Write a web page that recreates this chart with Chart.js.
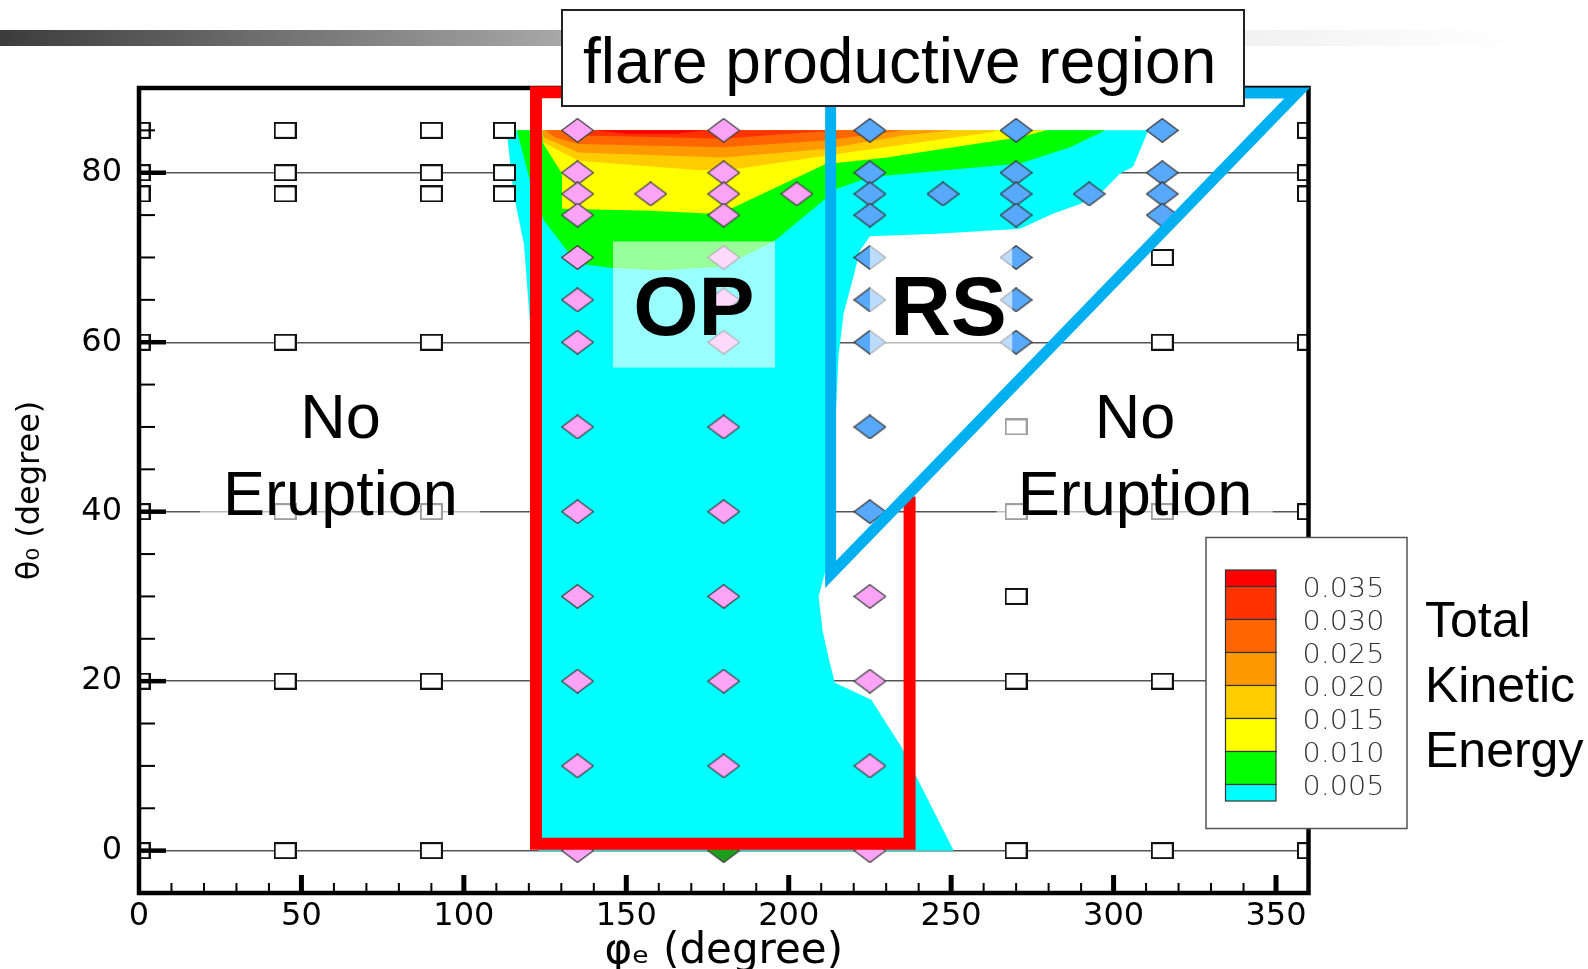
<!DOCTYPE html>
<html>
<head>
<meta charset="utf-8">
<title>Flare productive region</title>
<script src="https://cdn.jsdelivr.net/npm/chart.js@4.4.1/dist/chart.umd.min.js"></script>
<style>
  html, body { margin: 0; padding: 0; background: #fff; }
  #plot { display: block; }
</style>
</head>
<body>
<canvas id="plot" width="1588" height="969"></canvas>
<script>
// ------------------------------------------------------------------
// Axes
// ------------------------------------------------------------------
const xTicks = [0, 50, 100, 150, 200, 250, 300, 350];
const yTicks = [0, 20, 40, 60, 80];
const xMinorStep = 10;
const yMinorStep = 5;

// ------------------------------------------------------------------
// Simulation runs  [phi_e, theta_0]
// ------------------------------------------------------------------
const noEruptionRuns = [
    [0, 85], [0, 80], [0, 77.5], [0, 60], [0, 40], [0, 20], [0, 0],
    [45, 85], [45, 80], [45, 77.5], [45, 60], [45, 40], [45, 20], [45, 0],
    [90, 85], [90, 80], [90, 77.5], [90, 60], [90, 40], [90, 20], [90, 0],
    [112.5, 85], [112.5, 80], [112.5, 77.5],
    [270, 50], [270, 40], [270, 30], [270, 20], [270, 0],
    [315, 70], [315, 60], [315, 40], [315, 20], [315, 0],
    [360, 85], [360, 80], [360, 77.5], [360, 60], [360, 40], [360, 20], [360, 0]
];
const opRuns = [
    [135, 85], [135, 80], [135, 77.5], [135, 75], [135, 70], [135, 65], [135, 60],
    [135, 50], [135, 40], [135, 30], [135, 20], [135, 10], [135, 0],
    [157.5, 77.5],
    [180, 85], [180, 80], [180, 77.5], [180, 75], [180, 70], [180, 65], [180, 60],
    [180, 50], [180, 40], [180, 30], [180, 20], [180, 10],
    [202.5, 77.5],
    [225, 30], [225, 20], [225, 10], [225, 0]
];
const rsRuns = [
    [225, 85], [225, 80], [225, 77.5], [225, 75], [225, 70], [225, 65], [225, 60], [225, 50], [225, 40],
    [247.5, 77.5],
    [270, 85], [270, 80], [270, 77.5], [270, 75], [270, 70], [270, 65], [270, 60],
    [292.5, 77.5],
    [315, 85], [315, 80], [315, 77.5], [315, 75]
];
const greenRuns = [[180, 0]];

// ------------------------------------------------------------------
// Total kinetic energy contour bands (outline of each level, outer -> inner)
// ------------------------------------------------------------------
const keBandCyan = [
    [114, 85], [310.7, 85], [306, 80.7], [302, 79.9], [296.9, 77.9], [289.7, 76.3], [281.5, 75.2],
    [271.2, 73.4], [245.6, 72.8], [225, 72.5], [221.9, 70.8], [219.9, 67.7], [216.9, 63.4],
    [215.3, 58.3], [214.3, 50], [213.5, 40], [212, 34], [209.2, 30], [210.4, 26], [212.3, 22.7],
    [214.2, 19.8], [225.4, 17.8], [234.6, 12.3], [250.8, 0], [123, 0], [121.5, 30], [121, 50],
    [120.4, 62], [118.5, 71.6], [115.3, 77.5], [113.4, 84.2]
];
const keBandGreen = [
    [116.3, 85], [297, 85], [296.9, 84.9], [286.6, 83], [271.2, 81.1], [225.1, 79.5], [214.8, 78.1],
    [211.2, 76.9], [195.8, 72], [179.9, 68.9], [160, 68.5], [145, 68.8], [134.8, 69.3],
    [124.6, 74.4], [122.5, 76.5], [120.6, 78.7]
];
const keBandYellow = [
    [124.2, 85], [279.4, 85], [271.2, 84.2], [250.7, 83], [230.2, 81.8], [211.2, 81], [183, 75.9],
    [174.8, 75.2], [157.3, 75.5], [130.2, 75.75], [130.2, 79.9], [124.5, 83.4]
];
const keBandAmber = [
    [124.2, 85], [264, 85], [263, 84.8], [240.5, 83.6], [211.2, 82], [185, 80.5], [172.7, 80.3],
    [135.3, 81.4], [124.3, 83.6]
];
const keBandOrange = [
    [124.2, 85], [250.7, 85], [235.3, 84.4], [211.2, 82.8], [179.9, 81.8], [135.3, 82.4], [124.5, 84.2]
];
const keBandDarkOrange = [
    [125, 85], [235.3, 85], [211.2, 83.8], [179.9, 83], [135.3, 83.4], [128, 84.2]
];
const keBandRedOrange = [
    [130, 85], [215, 85], [200, 84.6], [179.9, 84], [162.5, 84.2], [135.3, 84.4]
];
const keBandRed = [
    [140, 85], [175, 85], [165, 84.6], [150, 84.6]
];

// Colour bar, top to bottom
const legendColors = ['#ff0000', '#ff3300', '#ff6600', '#ff9900', '#ffcc00', '#ffff00', '#00ff00', '#00ffff'];
const legendLevels = ['0.035', '0.030', '0.025', '0.020', '0.015', '0.010', '0.005'];

// Region outlines
const flareOutline = [[237.2, 41.8], [237.2, 0.8], [122.2, 0.8], [122.2, 89.5], [200, 89.5]];
const rsOutline = [[212.9, 89.4], [212.9, 32.6], [356.5, 89.4], [212.9, 89.4]];

// ------------------------------------------------------------------
const toXY = arr => arr.map(p => ({ x: p[0], y: p[1] }));

function markerCanvas(w, h, shape, fill, stroke, lw) {
    const cv = document.createElement('canvas');
    cv.width = w;
    cv.height = h;
    const g = cv.getContext('2d');
    g.fillStyle = fill;
    g.strokeStyle = stroke;
    g.lineWidth = lw;
    g.beginPath();
    if (shape === 'diamond') {
        g.moveTo(w / 2, lw / 2);
        g.lineTo(w - lw / 2, h / 2);
        g.lineTo(w / 2, h - lw / 2);
        g.lineTo(lw / 2, h / 2);
        g.closePath();
    } else {
        g.rect(lw / 2, lw / 2, w - lw, h - lw);
    }
    g.fill();
    g.stroke();
    return cv;
}

const squareMark = markerCanvas(23, 17, 'square', '#ffffff', '#111111', 2);
const pinkMark = markerCanvas(33, 25, 'diamond', '#fba3f7', '#444444', 1.3);
const blueMark = markerCanvas(33, 25, 'diamond', '#58a8fc', '#3a3a3a', 1.3);
const greenMark = markerCanvas(33, 25, 'diamond', '#1c9e1c', '#444444', 1.3);

function band(data, color, order) {
    return {
        label: 'band',
        data: toXY(data),
        showLine: true,
        fill: 'shape',
        backgroundColor: color,
        borderColor: color,
        borderWidth: 0,
        pointRadius: 0,
        tension: 0,
        order: order
    };
}

function runs(label, data, mark, order) {
    return {
        label: label,
        data: toXY(data),
        showLine: false,
        pointStyle: mark,
        pointRadius: 10,
        clip: 0,
        order: order
    };
}

function outline(data, color, width, order) {
    return {
        label: 'outline',
        data: toXY(data),
        showLine: true,
        fill: false,
        borderColor: color,
        borderWidth: width,
        borderJoinStyle: 'miter',
        borderCapStyle: 'butt',
        pointRadius: 0,
        tension: 0,
        clip: false,
        order: order
    };
}

// ------------------------------------------------------------------
// Decorations: header bar, overlays, frame, inner ticks, labels, colour bar
// ------------------------------------------------------------------
const decorPlugin = {
    id: 'decor',
    beforeDraw(chart) {
        const c = chart.ctx;
        c.save();
        c.fillStyle = '#ffffff';
        c.fillRect(0, 0, chart.width, chart.height);
        const g = c.createLinearGradient(0, 0, 1520, 0);
        g.addColorStop(0, '#3c3c3c');
        g.addColorStop(0.37, '#a8a8a8');
        g.addColorStop(0.8, '#f0f0f0');
        g.addColorStop(1, '#ffffff');
        c.fillStyle = g;
        c.fillRect(0, 30, 1520, 16);
        c.restore();
    },
    afterDatasetDraw(chart, args) {
        if (chart.data.datasets[args.index].label !== 'green run') return;
        const c = chart.ctx;
        const xs = chart.scales.x, ys = chart.scales.y, a = chart.chartArea;

        // translucent boxes behind the region labels
        c.save();
        c.fillStyle = 'rgba(255,255,255,0.6)';
        [[145.9, 195.8, 57, 71.9], [225, 268.8, 57, 71.9], [18.8, 105, 37.8, 55.5], [264, 349, 37.8, 55.5]]
            .forEach(b => {
                const x0 = xs.getPixelForValue(b[0]), x1 = xs.getPixelForValue(b[1]);
                const y0 = ys.getPixelForValue(b[3]), y1 = ys.getPixelForValue(b[2]);
                c.fillRect(x0, y0, x1 - x0, y1 - y0);
            });

        // inner tick marks
        c.strokeStyle = '#000';
        for (let v = xMinorStep; v < 360; v += xMinorStep) {
            const major = xTicks.includes(v);
            const px = xs.getPixelForValue(v);
            c.lineWidth = major ? 5 : 2;
            c.beginPath();
            c.moveTo(px, a.bottom);
            c.lineTo(px, a.bottom - (major ? 18 : 10));
            c.stroke();
        }
        for (let v = 0; v < 90; v += yMinorStep) {
            const major = yTicks.includes(v);
            const py = ys.getPixelForValue(v);
            c.lineWidth = major ? 4.5 : 2;
            c.beginPath();
            c.moveTo(a.left, py);
            c.lineTo(a.left + (major ? 27 : 16), py);
            c.stroke();
        }

        // frame
        c.lineWidth = 4.5;
        c.strokeRect(a.left, a.top, a.right - a.left, a.bottom - a.top);
        c.restore();
    },
    afterDraw(chart) {
        const c = chart.ctx;
        const xs = chart.scales.x, ys = chart.scales.y;
        c.save();
        c.fillStyle = '#000';
        c.textBaseline = 'alphabetic';

        // region labels
        c.textAlign = 'center';
        c.font = '63px "Liberation Sans", Arial, sans-serif';
        [62, 306.6].forEach(xv => {
            const px = xs.getPixelForValue(xv);
            c.fillText('No', px, ys.getPixelForValue(48.7));
            c.fillText('Eruption', px, ys.getPixelForValue(39.6));
        });
        c.font = 'bold 84px "Liberation Sans", Arial, sans-serif';
        c.fillText('OP', xs.getPixelForValue(170.8), ys.getPixelForValue(60.9));
        c.fillText('RS', xs.getPixelForValue(249.2), ys.getPixelForValue(60.9));

        // header box
        c.fillStyle = '#ffffff';
        c.fillRect(562, 10, 682, 96);
        c.strokeStyle = '#222';
        c.lineWidth = 2;
        c.strokeRect(562, 10, 682, 96);
        c.fillStyle = '#000';
        c.textAlign = 'left';
        c.font = '64px "Liberation Sans", Arial, sans-serif';
        c.fillText('flare productive region', 583, 83);

        // colour bar legend
        c.fillStyle = '#ffffff';
        c.fillRect(1206, 537.5, 201, 291);
        c.strokeStyle = '#555';
        c.lineWidth = 1.5;
        c.strokeRect(1206, 537.5, 201, 291);
        const barX = 1225.5, barW = 50.5, full = 33, half = 16.5;
        let y = 570;
        legendColors.forEach((col, i) => {
            const h = (i === 0 || i === legendColors.length - 1) ? half : full;
            c.fillStyle = col;
            c.fillRect(barX, y, barW, h);
            c.strokeStyle = '#333';
            c.lineWidth = 1.2;
            c.strokeRect(barX, y, barW, h);
            y += h;
        });
        c.fillStyle = '#333';
        c.textBaseline = 'middle';
        c.font = '200 26px "DejaVu Sans", sans-serif';
        legendLevels.forEach((lab, i) => {
            c.save();
            c.translate(1302.5, 570 + half + full * i + 4);
            c.scale(1.1, 1);
            c.fillText(lab, 0, 0);
            c.restore();
        });

        c.fillStyle = '#000';
        c.textBaseline = 'alphabetic';
        c.font = '50px "Liberation Sans", Arial, sans-serif';
        c.fillText('Total', 1425, 637);
        c.fillText('Kinetic', 1425, 702);
        c.fillText('Energy', 1425, 767);
        c.restore();
    }
};

const tickFont = { family: '"DejaVu Sans", sans-serif', size: 32, lineHeight: 1 };

new Chart(document.getElementById('plot'), {
    type: 'scatter',
    data: {
        datasets: [
            outline(rsOutline, '#00b0f0', 11, 1),
            outline(flareOutline, '#ff0000', 12, 2),
            runs('green run', greenRuns, greenMark, 9),
            runs('RS runs', rsRuns, blueMark, 10),
            runs('OP runs', opRuns, pinkMark, 11),
            runs('no eruption', noEruptionRuns, squareMark, 12),
            band(keBandRed, legendColors[0], 13),
            band(keBandRedOrange, legendColors[1], 14),
            band(keBandDarkOrange, legendColors[2], 15),
            band(keBandOrange, legendColors[3], 16),
            band(keBandAmber, legendColors[4], 17),
            band(keBandYellow, legendColors[5], 18),
            band(keBandGreen, legendColors[6], 19),
            band(keBandCyan, legendColors[7], 20)
        ]
    },
    options: {
        responsive: false,
        animation: false,
        events: [],
        layout: { padding: { top: 88, right: 279.5, bottom: 0, left: 0 } },
        plugins: {
            legend: { display: false },
            tooltip: { enabled: false }
        },
        scales: {
            x: {
                type: 'linear',
                min: 0,
                max: 360,
                afterBuildTicks: s => { s.ticks = xTicks.map(v => ({ value: v })); },
                afterFit: s => { s.height = 76; },
                grid: { display: false, drawTicks: false },
                border: { display: false },
                ticks: { color: '#000', font: tickFont, padding: 8, maxRotation: 0, autoSkip: false },
                title: {
                    display: true,
                    text: 'φₑ (degree)',
                    color: '#000',
                    font: { family: '"DejaVu Sans", sans-serif', size: 42, lineHeight: 1 },
                    padding: { top: 0, bottom: -4 }
                }
            },
            y: {
                type: 'linear',
                min: -5,
                max: 90,
                afterBuildTicks: s => { s.ticks = yTicks.map(v => ({ value: v })); },
                afterFit: s => { s.width = 139; },
                grid: { color: '#555', lineWidth: 1.4, drawTicks: false },
                border: { display: false },
                ticks: { color: '#000', font: tickFont, padding: 17 },
                title: {
                    display: true,
                    text: 'θ₀ (degree)',
                    color: '#000',
                    font: { family: '"DejaVu Sans", sans-serif', size: 32, lineHeight: 1 },
                    padding: { top: 15, bottom: 0 }
                }
            }
        }
    },
    plugins: [decorPlugin]
});
</script>
</body>
</html>
